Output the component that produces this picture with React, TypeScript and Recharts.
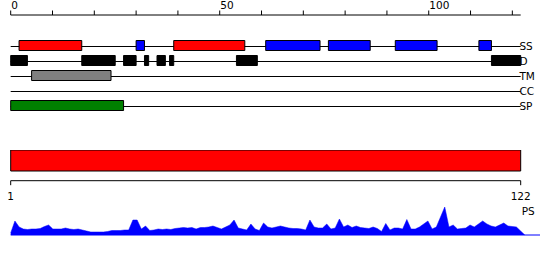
import React from "react";
import { BarChart, Bar, XAxis, YAxis, Cell, AreaChart, Area } from "recharts";

const FONT = "'DejaVu Sans', sans-serif";
const SEQ_LENGTH = 122;

const TRACKS = ["SS", "D", "TM", "CC", "SP"];
const HELIX = [[2, 17], [39, 56]];
const STRAND = [[30, 32], [61, 74], [76, 86], [92, 102], [112, 115]];
const DISORDER = [[0, 4], [17, 25], [27, 30], [32, 33], [35, 37], [38, 39], [54, 59], [115, 122]];
const TRANSMEMBRANE = [[5, 24]];
const COILED_COIL: number[][] = [];
const SIGNAL_PEPTIDE = [[0, 27]];

const TOP_TICKS = [0, 10, 20, 30, 40, 50, 60, 70, 80, 90, 100, 110, 120];
const TOP_LABELS = [0, 50, 100];
const SEQ_TICKS = [1, 122];

// one value per residue (1..123)
const PS_VALUES = [
  2, 14, 8, 6, 5.5, 6, 6, 6.5, 8.5, 10,
  6, 6, 6, 7, 6, 5.5, 6, 5, 4, 3,
  3, 3, 3, 3.5, 4.5, 4.5, 4.5, 5, 5, 15,
  15, 6, 9, 4.5, 5, 6, 5.5, 6, 5.5, 6.5,
  7, 7.5, 7, 7.5, 6, 7.5, 7.5, 8, 9, 7.5,
  6, 8, 10, 15, 7, 6, 5, 11, 6, 4.5,
  12, 8, 7, 8, 9, 8, 7, 6.5, 6.5, 6,
  5, 15, 8, 7, 7, 11, 6, 7, 16, 8,
  10, 7.5, 9, 7.5, 7, 6.5, 8, 6.5, 3.5, 11.5,
  5, 7, 7, 6, 15.5, 6, 6, 8, 11, 14,
  6, 8, 18, 28, 8, 10, 6, 6.5, 7, 10,
  8, 11, 14, 11, 9, 8, 10, 12, 9, 8.5,
  8, 4, 0,
];

const RED = "#ff0000";
const BLUE = "#0000ff";
const BLACK = "#000000";
const GRAY = "#808080";
const GREEN = "#008000";

const segmentsByTrack: Record<string, { r: number[]; c: string }[]> = {
  SS: [...HELIX.map((r) => ({ r, c: RED })), ...STRAND.map((r) => ({ r, c: BLUE }))],
  D: DISORDER.map((r) => ({ r, c: BLACK })),
  TM: TRANSMEMBRANE.map((r) => ({ r, c: GRAY })),
  CC: COILED_COIL.map((r) => ({ r, c: BLACK })),
  SP: SIGNAL_PEPTIDE.map((r) => ({ r, c: GREEN })),
};

const maxSegments = Math.max(...TRACKS.map((t) => segmentsByTrack[t].length));
const segKeys = Array.from({ length: maxSegments }, (_, i) => i);

const trackData = TRACKS.map((t) => {
  const row: any = { track: t, line: [0, SEQ_LENGTH] };
  segmentsByTrack[t].forEach((s, i) => {
    row[`s${i}`] = s.r;
    row[`c${i}`] = s.c;
  });
  return row;
});

const seqData = [{ name: "seq", range: [1, SEQ_LENGTH] }];
const psData = PS_VALUES.map((v, i) => ({ pos: i + 1, v }));

const TopTick = (props: any) => {
  const { x, payload } = props;
  if (!TOP_LABELS.includes(payload.value)) return <g />;
  return (
    <text x={x + 0.6} y={9.3} fontSize={10.5} fontFamily={FONT} fill="#000">
      {payload.value}
    </text>
  );
};

const TrackTick = (props: any) => {
  const { x, y, payload } = props;
  return (
    <text x={x - 1.3} y={y + 5} fontSize={10.5} fontFamily={FONT} fill="#000">
      {payload.value}
    </text>
  );
};

const SeqTick = (props: any) => {
  const { x, payload } = props;
  return (
    <text x={x} y={50} textAnchor="middle" fontSize={10.5} fontFamily={FONT} fill="#000">
      {payload.value}
    </text>
  );
};

const RowLine = (props: any) => {
  const { x, y, width, height } = props;
  if (!(width > 0)) return <g />;
  const cy = Math.round(y + height / 2) + 0.5;
  return <line x1={x} x2={x + width} y1={cy} y2={cy} stroke="#000" strokeWidth={1} />;
};

export default function App() {
  return (
    <div style={{ position: "absolute", left: 0, top: 0, width: 550, height: 260, background: "#fff" }}>
      <div style={{ position: "absolute", left: 0, top: 0 }}>
        <BarChart
          width={550}
          height={115}
          data={trackData}
          layout="vertical"
          margin={{ top: 0, right: 0, bottom: 2.5, left: 10.7 }}
          barSize={10}
          barGap={-10}
        >
          <XAxis
            type="number"
            orientation="top"
            domain={[0, SEQ_LENGTH]}
            ticks={TOP_TICKS}
            interval={0}
            height={15}
            tickSize={4.5}
            stroke="#000"
            tick={<TopTick />}
          />
          <YAxis
            type="category"
            dataKey="track"
            orientation="right"
            width={29.3}
            interval={0}
            axisLine={false}
            tickLine={false}
            tickSize={0}
            tickMargin={0}
            padding={{ top: 22.5, bottom: 0 }}
            tick={<TrackTick />}
          />
          <Bar dataKey="line" isAnimationActive={false} shape={<RowLine />} />
          {segKeys.map((k) => (
            <Bar key={k} dataKey={`s${k}`} stroke="#000" strokeWidth={1} isAnimationActive={false}>
              {trackData.map((row, i) => (
                <Cell key={i} fill={row[`c${k}`] || "none"} />
              ))}
            </Bar>
          ))}
        </BarChart>
      </div>
      <div style={{ position: "absolute", left: 0, top: 150 }}>
        <BarChart
          width={550}
          height={56}
          data={seqData}
          layout="vertical"
          margin={{ top: 0, right: 29.3, bottom: 0, left: 10.7 }}
          barCategoryGap={0}
        >
          <XAxis
            type="number"
            domain={[1, SEQ_LENGTH]}
            ticks={SEQ_TICKS}
            interval={0}
            height={25.3}
            tickSize={4.5}
            stroke="#000"
            tick={<SeqTick />}
          />
          <YAxis type="category" dataKey="name" hide padding={{ top: 0, bottom: 10 }} />
          <Bar dataKey="range" fill={RED} stroke="#000" strokeWidth={1} isAnimationActive={false} />
        </BarChart>
      </div>
      <div
        style={{
          position: "absolute",
          left: 521.7,
          top: 205.3,
          fontFamily: FONT,
          fontSize: 10.5,
          lineHeight: "12px",
          color: "#000",
        }}
      >
        PS
      </div>
      <div style={{ position: "absolute", left: 0, top: 200 }}>
        <AreaChart width={550} height={36} data={psData} margin={{ top: 5, right: 10, bottom: 0, left: 10.7 }}>
          <XAxis
            type="number"
            dataKey="pos"
            domain={[1, 126.6]}
            height={1}
            tick={false}
            tickLine={false}
            axisLine={{ stroke: BLUE }}
          />
          <YAxis type="number" domain={[0, 30]} hide />
          <Area type="linear" dataKey="v" fill={BLUE} fillOpacity={1} stroke={BLUE} strokeWidth={0.5} isAnimationActive={false} />
        </AreaChart>
      </div>
    </div>
  );
}
